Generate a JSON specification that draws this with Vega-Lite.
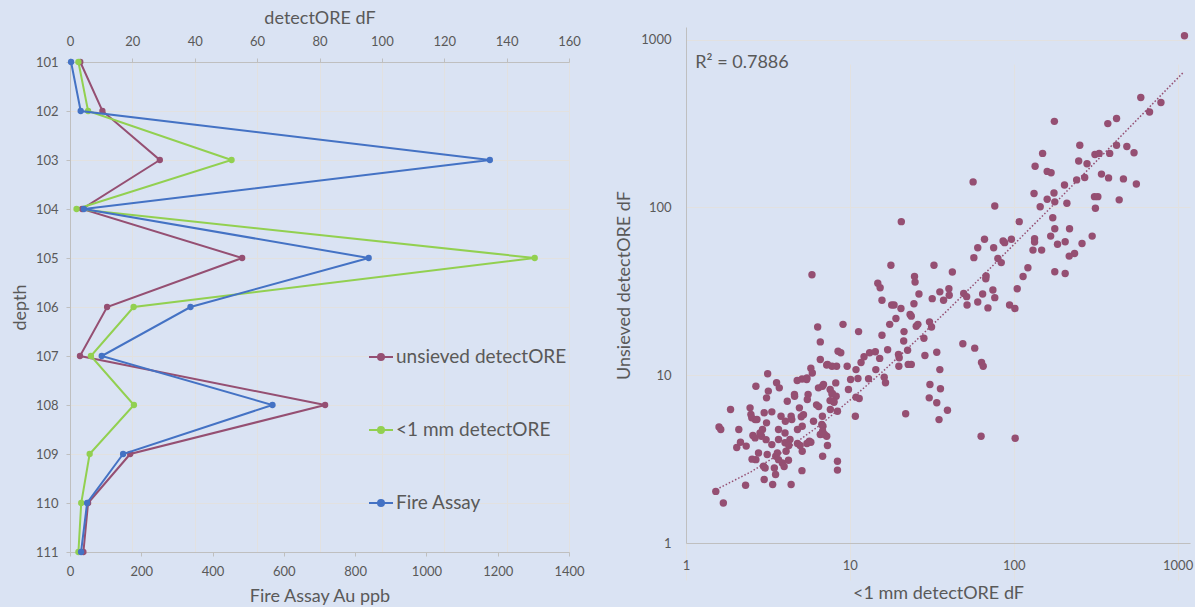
{
  "$schema": "https://vega.github.io/schema/vega-lite/v6.json",
  "background": "#DAE3F3",
  "width": 1195,
  "height": 607,
  "autosize": {"type": "none"},
  "padding": 0,
  "config": {
    "view": {"stroke": null},
    "font": "Lato",
    "axis": {
      "labelFont": "Lato", "labelFontSize": 13, "labelColor": "#595959",
      "titleFont": "Lato", "titleFontSize": 18, "titleFontWeight": "normal", "titleColor": "#595959",
      "gridColor": "#E2E1E0", "domainColor": "#BFBFBF", "tickColor": "#BFBFBF", "tickSize": 4
    }
  },
  "datasets": {
    "profile": [
      {"depth": 101, "series": "unsieved detectORE", "value": 3.3},
      {"depth": 102, "series": "unsieved detectORE", "value": 10.4},
      {"depth": 103, "series": "unsieved detectORE", "value": 28.8},
      {"depth": 104, "series": "unsieved detectORE", "value": 3.9},
      {"depth": 105, "series": "unsieved detectORE", "value": 55.2},
      {"depth": 106, "series": "unsieved detectORE", "value": 11.9},
      {"depth": 107, "series": "unsieved detectORE", "value": 3.2},
      {"depth": 108, "series": "unsieved detectORE", "value": 81.8},
      {"depth": 109, "series": "unsieved detectORE", "value": 19.3},
      {"depth": 110, "series": "unsieved detectORE", "value": 5.8},
      {"depth": 111, "series": "unsieved detectORE", "value": 4.3},
      {"depth": 101, "series": "<1 mm detectORE", "value": 2.7},
      {"depth": 102, "series": "<1 mm detectORE", "value": 5.8},
      {"depth": 103, "series": "<1 mm detectORE", "value": 51.8},
      {"depth": 104, "series": "<1 mm detectORE", "value": 2.1},
      {"depth": 105, "series": "<1 mm detectORE", "value": 149},
      {"depth": 106, "series": "<1 mm detectORE", "value": 20.4},
      {"depth": 107, "series": "<1 mm detectORE", "value": 6.7},
      {"depth": 108, "series": "<1 mm detectORE", "value": 20.5},
      {"depth": 109, "series": "<1 mm detectORE", "value": 6.3},
      {"depth": 110, "series": "<1 mm detectORE", "value": 3.6},
      {"depth": 111, "series": "<1 mm detectORE", "value": 2.7},
      {"depth": 101, "series": "Fire Assay", "value": 3},
      {"depth": 102, "series": "Fire Assay", "value": 30},
      {"depth": 103, "series": "Fire Assay", "value": 1178},
      {"depth": 104, "series": "Fire Assay", "value": 39},
      {"depth": 105, "series": "Fire Assay", "value": 838},
      {"depth": 106, "series": "Fire Assay", "value": 338},
      {"depth": 107, "series": "Fire Assay", "value": 89},
      {"depth": 108, "series": "Fire Assay", "value": 568},
      {"depth": 109, "series": "Fire Assay", "value": 149},
      {"depth": 110, "series": "Fire Assay", "value": 48},
      {"depth": 111, "series": "Fire Assay", "value": 31}
    ],
    "scatter": [
      {"x":1101,"y":1055},{"x":596,"y":452},{"x":674,"y":371},{"x":791,"y":422},{"x":177,"y":326},{"x":375,"y":316},{"x":424,"y":339},{"x":253,"y":235},{"x":424,"y":235},{"x":490,"y":231},
      {"x":150,"y":210},{"x":313,"y":207},{"x":332,"y":210},{"x":385,"y":210},{"x":542,"y":212},{"x":249,"y":189},{"x":280,"y":182},{"x":135,"y":176},{"x":160,"y":164},{"x":169,"y":161},
      {"x":343,"y":158},{"x":271,"y":151},{"x":379,"y":150},{"x":467,"y":148},{"x":242,"y":146},{"x":56.5,"y":142},{"x":560,"y":138},{"x":204,"y":136},{"x":133,"y":121},{"x":176,"y":122},
      {"x":160,"y":112},{"x":178,"y":108},{"x":211,"y":106},{"x":311,"y":116},{"x":326,"y":116},{"x":440,"y":111},{"x":145,"y":101},{"x":76.6,"y":102},{"x":315,"y":98.9},{"x":173,"y":86.9},
      {"x":20.6,"y":82.3},{"x":108,"y":82.3},{"x":178,"y":74.6},{"x":219,"y":74.6},{"x":168,"y":67.5},{"x":301,"y":67.5},{"x":66.3,"y":64.6},{"x":96.8,"y":64.6},{"x":86.1,"y":63.1},{"x":88,"y":61.7},
      {"x":134,"y":65.2},{"x":134,"y":62.2},{"x":206,"y":62.5},{"x":185,"y":60.3},{"x":261,"y":61},{"x":60.3,"y":57.5},{"x":75.4,"y":57.5},{"x":131,"y":55.7},{"x":148,"y":55.7},{"x":235,"y":53.2},
      {"x":218,"y":51.3},{"x":57.1,"y":50.2},{"x":80,"y":49.7},{"x":83.9,"y":46.9},{"x":17.8,"y":45.2},{"x":32.6,"y":45.2},{"x":122,"y":43.7},{"x":178,"y":41.4},{"x":206,"y":40.4},{"x":5.87,"y":39.7},
      {"x":42.2,"y":41.2},{"x":67.8,"y":39},{"x":67.5,"y":37.6},{"x":114,"y":38.8},{"x":24.8,"y":38.8},{"x":25,"y":35.9},{"x":14.8,"y":35.3},{"x":15.3,"y":33.2},{"x":105,"y":32.8},{"x":74.6,"y":32.2},
      {"x":35.4,"y":31.4},{"x":40.2,"y":32.8},{"x":26.4,"y":30.5},{"x":49.5,"y":30.7},{"x":64.6,"y":30.5},{"x":40.4,"y":30},{"x":51.6,"y":29.4},{"x":76.6,"y":29},{"x":31.8,"y":28.6},{"x":37.3,"y":28},
      {"x":15.7,"y":28},{"x":24.6,"y":26.7},{"x":18,"y":26.2},{"x":18.6,"y":26.2},{"x":51.9,"y":26.2},{"x":60.3,"y":27.3},{"x":94.3,"y":26.2},{"x":69.6,"y":25.2},{"x":101.6,"y":25},{"x":20.5,"y":25},
      {"x":6.36,"y":19.4},{"x":9.08,"y":20.1},{"x":11.3,"y":18.2},{"x":15.7,"y":17.3},{"x":17.5,"y":20.1},{"x":19.1,"y":21.8},{"x":23.3,"y":23},{"x":23.7,"y":22.5},{"x":21.4,"y":18.2},{"x":21.3,"y":16},
      {"x":25.4,"y":19.6},{"x":26,"y":20.1},{"x":30.6,"y":20.8},{"x":31.5,"y":19.4},{"x":28.3,"y":16.6},{"x":22.5,"y":14.1},{"x":19.8,"y":13.3},{"x":20,"y":12.7},{"x":19.9,"y":11.3},{"x":22.7,"y":11.6},
      {"x":23.7,"y":11.6},{"x":28.7,"y":13.1},{"x":33.9,"y":13.7},{"x":35.4,"y":10.8},{"x":48.9,"y":15.4},{"x":57.8,"y":14.5},{"x":63.6,"y":11.9},{"x":65.1,"y":11.3},{"x":30.8,"y":8.81},{"x":35.7,"y":8.3},
      {"x":30.5,"y":7.33},{"x":33.9,"y":6.85},{"x":39.4,"y":6.19},{"x":35,"y":5.44},{"x":21.9,"y":5.89},{"x":63.2,"y":4.33},{"x":102,"y":4.21},{"x":16.5,"y":9.01},{"x":16.2,"y":9.73},{"x":17,"y":14.2},
      {"x":14.4,"y":10.8},{"x":13,"y":9.52},{"x":11.7,"y":11.9},{"x":12.2,"y":12.9},{"x":13.2,"y":13.6},{"x":14.3,"y":13.8},{"x":15.2,"y":12.6},{"x":10.9,"y":10.8},{"x":11.2,"y":9.56},{"x":10.9,"y":7.4},
      {"x":11.4,"y":7.27},{"x":10.8,"y":5.7},{"x":10.1,"y":9.43},{"x":9.8,"y":8.22},{"x":9.63,"y":11.3},{"x":8.47,"y":13.9},{"x":8.8,"y":13.6},{"x":8.3,"y":11.3},{"x":7.78,"y":11.3},{"x":7.22,"y":11.5},
      {"x":6.6,"y":12.4},{"x":6.6,"y":15.8},{"x":5.78,"y":11},{"x":5.9,"y":10.3},{"x":5.45,"y":9.43},{"x":5.11,"y":9.5},{"x":4.77,"y":9.3},{"x":6.43,"y":8.41},{"x":6.8,"y":8.6},{"x":6.9,"y":8.8},
      {"x":7.58,"y":8.22},{"x":7.78,"y":7.74},{"x":8.25,"y":7.5},{"x":7.97,"y":7},{"x":7.6,"y":6.25},{"x":8.4,"y":6.1},{"x":6.26,"y":6.66},{"x":6.45,"y":6.5},{"x":5.56,"y":7.67},{"x":5.5,"y":7.17},
      {"x":4.92,"y":6.39},{"x":4.59,"y":7.67},{"x":4.15,"y":7},{"x":4.38,"y":5.7},{"x":5.05,"y":5.65},{"x":5.12,"y":4.97},{"x":6,"y":5.32},{"x":6.8,"y":5.7},{"x":6.85,"y":4.97},{"x":6.82,"y":4.64},
      {"x":7.22,"y":4.33},{"x":7.3,"y":3.81},{"x":6.82,"y":3.29},{"x":8.4,"y":3.07},{"x":8.4,"y":2.72},{"x":5.1,"y":2.7},{"x":4.38,"y":2.23},{"x":5.12,"y":3.52},{"x":4.79,"y":3.92},{"x":5.47,"y":3.92},
      {"x":5.78,"y":3.99},{"x":4.31,"y":4.14},{"x":4.02,"y":4.53},{"x":4.02,"y":3.96},{"x":4.08,"y":3.52},{"x":3.87,"y":3},{"x":3.67,"y":3.14},{"x":3.52,"y":2.56},{"x":3.38,"y":2.23},{"x":3.13,"y":3.37},
      {"x":3.34,"y":3.86},{"x":2.97,"y":2.87},{"x":3,"y":2.39},{"x":2.67,"y":3.14},{"x":2.53,"y":3.16},{"x":2.77,"y":3.44},{"x":2.89,"y":4.33},{"x":2.93,"y":4.75},{"x":3.1,"y":5.2},{"x":3,"y":5.97},
      {"x":3.34,"y":6.05},{"x":3.1,"y":7.33},{"x":3.18,"y":8.04},{"x":3.57,"y":9.01},{"x":3.71,"y":8.41},{"x":3.15,"y":10.2},{"x":2.67,"y":8.6},{"x":2.46,"y":6.39},{"x":2.49,"y":5.84},{"x":2.64,"y":5.44},
      {"x":2.56,"y":4.37},{"x":2.33,"y":3.78},{"x":2.04,"y":3.71},{"x":2.1,"y":4.75},{"x":2.15,"y":3.99},{"x":1.87,"y":6.25},{"x":1.59,"y":4.92},{"x":1.63,"y":4.75},{"x":1.52,"y":2.03},{"x":1.69,"y":1.73},
      {"x":2.31,"y":2.21},{"x":3.53,"y":3.29},{"x":4.24,"y":3.81},{"x":3.67,"y":4.14},{"x":6.6,"y":4.43},{"x":4.79,"y":4.75},{"x":5.47,"y":9.64},{"x":4.6,"y":7.5},{"x":4.04,"y":5.32},{"x":3.67,"y":4.75},
      {"x":8.2,"y":9.0},{"x":4.22,"y":3.11},{"x":3.8,"y":5.7},{"x":7.3,"y":11.6},{"x":2.52,"y":5.57},{"x":2.71,"y":5.45},{"x":2.83,"y":4.53},{"x":3.08,"y":4.13},{"x":2.64,"y":4.23},{"x":3.46,"y":2.8},
      {"x":3.04,"y":2.8},{"x":3.61,"y":3.44},{"x":3.97,"y":2.86},{"x":4.97,"y":3.81},{"x":5.66,"y":4.04},{"x":4.42,"y":5.44},{"x":5.21,"y":5.82},{"x":6.74,"y":5.08},{"x":7,"y":4.43},{"x":7.57,"y":7.06},
      {"x":8.0,"y":6.9},{"x":7.82,"y":7.78}
    ],
    "trend": [
      {"x":1.6,"y":2.13},{"x":2.5,"y":2.66},{"x":4,"y":3.55},{"x":6.5,"y":5.0},{"x":10,"y":7.1},{"x":16,"y":10.6},{"x":25,"y":15.9},{"x":40,"y":24.7},{"x":65,"y":39.4},{"x":100,"y":60},{"x":160,"y":95},{"x":250,"y":148},{"x":400,"y":236},{"x":650,"y":383},{"x":1083,"y":638}
    ],
    "note": [{"x": 1.14, "y": 724, "label": "R² = 0.7886"}]
  },
  "layer": [
    {
      "data": {"name": "profile"},
      "transform": [{"filter": "datum.series !== 'Fire Assay'"}],
      "mark": {"type": "line", "strokeWidth": 2, "point": {"filled": true, "size": 40, "opacity": 1}},
      "encoding": {
        "x": {"field": "value", "type": "quantitative", "scale": {"domain": [0, 160], "range": [70, 569], "nice": false, "zero": false},
              "axis": {"orient": "top", "offset": -62, "title": "detectORE dF", "values": [0,20,40,60,80,100,120,140,160], "grid": true, "labelFlush": false, "labelPadding": 10, "titlePadding": 8}},
        "y": {"field": "depth", "type": "quantitative", "scale": {"domain": [101, 111], "range": [62, 552], "nice": false, "zero": false},
              "axis": {"orient": "left", "offset": -70, "title": "depth", "values": [101,102,103,104,105,106,107,108,109,110,111], "format": "d", "grid": true, "labelPadding": 8, "titlePadding": 6}},
        "color": {"field": "series", "type": "nominal",
                  "scale": {"domain": ["unsieved detectORE", "<1 mm detectORE", "Fire Assay"], "range": ["#954F72", "#92D050", "#4472C4"]},
                  "legend": {"orient": "none", "legendX": 368, "legendY": 344, "title": null, "labelFontSize": 19, "labelColor": "#595959", "labelFont": "Lato", "labelLimit": 400,
                             "symbolType": "M-1,0L1,0M-0.25,0A0.25,0.25,0,1,1,0.25,0A0.25,0.25,0,1,1,-0.25,0", "symbolSize": 576, "symbolStrokeWidth": 2,
                             "rowPadding": 50, "labelOffset": 2, "padding": 0, "direction": "vertical",
                             "encode": {"symbols": {"update": {
                               "fill": {"signal": "datum.value === 'Fire Assay' ? '#4472C4' : (datum.value === '<1 mm detectORE' ? '#92D050' : '#954F72')"},
                               "stroke": {"signal": "datum.value === 'Fire Assay' ? '#4472C4' : (datum.value === '<1 mm detectORE' ? '#92D050' : '#954F72')"},
                               "opacity": {"value": 1}}}}}},
        "order": {"field": "depth"}
      }
    },
    {
      "data": {"name": "profile"},
      "transform": [{"filter": "datum.series === 'Fire Assay'"}],
      "mark": {"type": "line", "strokeWidth": 2, "point": {"filled": true, "size": 40, "opacity": 1}},
      "encoding": {
        "x": {"field": "value", "type": "quantitative", "scale": {"domain": [0, 1400], "range": [70, 569], "nice": false, "zero": false},
              "axis": {"orient": "bottom", "offset": -55, "title": "Fire Assay Au ppb", "values": [0,200,400,600,800,1000,1200,1400], "format": "d", "grid": false, "labelFlush": false, "labelPadding": 9, "titlePadding": 9}},
        "y": {"field": "depth", "type": "quantitative", "scale": {"domain": [101, 111], "range": [62, 552], "nice": false, "zero": false}, "axis": null},
        "color": {"field": "series", "type": "nominal"},
        "order": {"field": "depth"}
      }
    },
    {
      "data": {"name": "scatter"},
      "mark": {"type": "circle", "size": 55, "color": "#954F72", "opacity": 1},
      "encoding": {
        "x": {"field": "x", "type": "quantitative", "scale": {"type": "log", "domain": [1, 1190], "range": [686, 1190], "nice": false},
              "axis": {"orient": "bottom", "offset": -64, "title": "<1 mm detectORE dF", "values": [1,10,100,1000], "format": "d", "grid": true, "ticks": false, "labelFlush": false, "labelPadding": 16, "titlePadding": 12}},
        "y": {"field": "y", "type": "quantitative", "scale": {"type": "log", "domain": [1, 1190], "range": [543, 27], "nice": false},
              "axis": {"orient": "left", "offset": -686, "title": "Unsieved detectORE dF", "values": [1,10,100,1000], "format": "d", "grid": true, "ticks": false, "labelFlush": false, "labelPadding": 15, "titlePadding": 7}}
      }
    },
    {
      "data": {"name": "trend"},
      "mark": {"type": "line", "color": "#954F72", "strokeWidth": 1.5, "strokeDash": [1.5, 2]},
      "encoding": {
        "x": {"field": "x", "type": "quantitative", "scale": {"type": "log", "domain": [1, 1190], "range": [686, 1190], "nice": false}, "axis": null},
        "y": {"field": "y", "type": "quantitative", "scale": {"type": "log", "domain": [1, 1190], "range": [543, 27], "nice": false}, "axis": null}
      }
    },
    {
      "data": {"name": "note"},
      "mark": {"type": "text", "align": "left", "baseline": "middle", "fontSize": 18, "color": "#595959", "font": "Lato"},
      "encoding": {
        "x": {"field": "x", "type": "quantitative", "scale": {"type": "log", "domain": [1, 1190], "range": [686, 1190], "nice": false}, "axis": null},
        "y": {"field": "y", "type": "quantitative", "scale": {"type": "log", "domain": [1, 1190], "range": [543, 27], "nice": false}, "axis": null},
        "text": {"field": "label"}
      }
    }
  ],
  "resolve": {"scale": {"x": "independent", "y": "independent"}, "axis": {"x": "independent", "y": "independent"}}
}
